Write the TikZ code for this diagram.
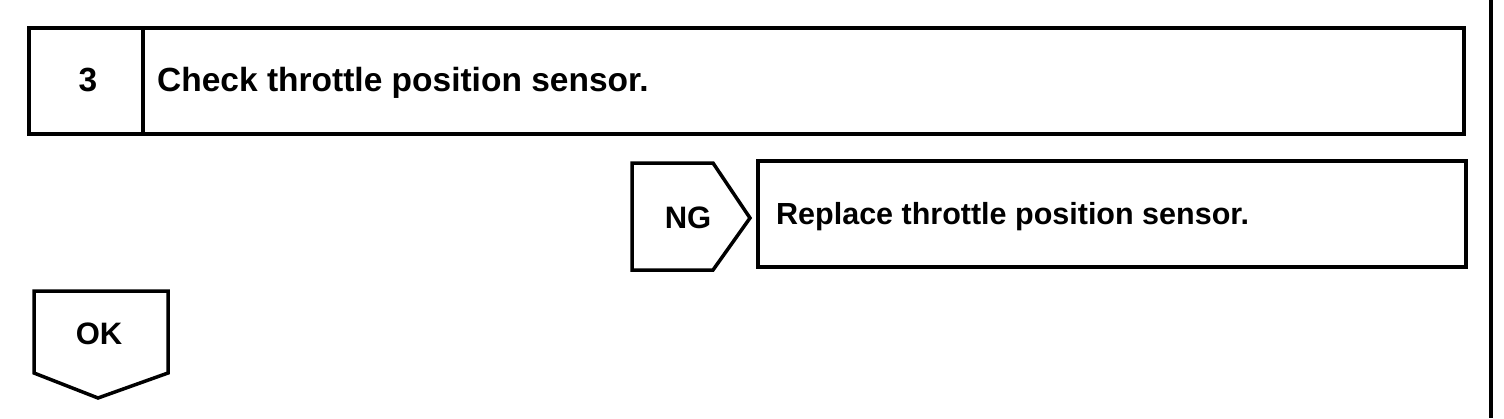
\documentclass[tikz,border=0pt]{standalone}
\usepackage{fontspec}
\setmainfont{Liberation Sans}
\begin{document}
\begin{tikzpicture}[x=1pt,y=-1pt,
  frame/.style={draw=black,line width=3.5pt,line join=miter},
  lbl/.style={font=\fontsize{31}{36}\selectfont\bfseries,inner sep=0pt},
  big/.style={font=\fontsize{33.5}{38}\selectfont\bfseries,inner sep=0pt}]
\useasboundingbox (0,0) rectangle (1504,418);
% top step box
\draw[frame] (29,28) rectangle (1464,134);
\draw[frame] (143,28) -- (143,134);
\node[big,anchor=base] (num) at (88,91) {3};
\node[big,anchor=base west] (title) at (157,91) {Check throttle position sensor.};
% NG pentagon
\draw[frame] (632,163) -- (713,163) -- (750,218) -- (713,270) -- (632,270) -- cycle;
\node[lbl,anchor=base] (ng) at (688,228) {NG};
% replace box
\draw[frame] (758,161) rectangle (1466,267);
\node[font=\fontsize{30.5}{36}\selectfont\bfseries,inner sep=0pt,anchor=base west] (repl) at (776,224) {Replace throttle position sensor.};
% OK shape
\draw[frame] (34,291) -- (168,291) -- (168,373) -- (98,398) -- (34,373) -- cycle;
\node[lbl,anchor=base] (ok) at (99,344) {OK};
% right edge line
\draw[line width=4pt] (1491,0) -- (1491,418);
\end{tikzpicture}
\end{document}
